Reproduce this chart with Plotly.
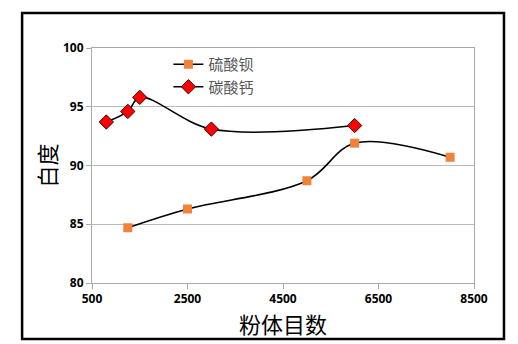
import plotly.graph_objects as go

x_baso4 = [1250, 2500, 5000, 6000, 8000]
y_baso4 = [84.7, 86.3, 88.7, 91.9, 90.7]
x_caco3 = [800, 1250, 1500, 3000, 6000]
y_caco3 = [93.7, 94.6, 95.8, 93.1, 93.4]
name_baso4 = "硫酸钡"
name_caco3 = "碳酸钙"
x_title = "粉体目数"
y_title = "白度"
x_ticks = [500, 2500, 4500, 6500, 8500]
y_ticks = [80, 85, 90, 95, 100]

fig = go.Figure()
fig.add_trace(go.Scatter(
    x=x_baso4, y=y_baso4, name=name_baso4, mode="lines+markers",
    line=dict(color="black", width=1.6, shape="spline", smoothing=1.0),
    marker=dict(symbol="square", size=9, color="#F0823A", line=dict(width=0))))
fig.add_trace(go.Scatter(
    x=x_caco3, y=y_caco3, name=name_caco3, mode="lines+markers",
    line=dict(color="black", width=1.6, shape="spline", smoothing=1.0),
    marker=dict(symbol="diamond", size=11, color="#FF0000", line=dict(width=1, color="#400000"))))

tickfont = dict(family="Open Sans", size=12, color="black", weight="bold")
titlefont = dict(family="Noto Sans CJK SC", size=22, color="black")
fig.update_layout(
    width=518, height=344,
    margin=dict(l=92, r=44, t=48, b=61),
    paper_bgcolor="white", plot_bgcolor="white",
    showlegend=True,
    legend=dict(x=0.2, y=1.0, xanchor="left", yanchor="top",
                bgcolor="rgba(0,0,0,0)",
                font=dict(family="Noto Sans CJK SC", size=15, color="#555555"),
                traceorder="normal"),
    xaxis=dict(range=[500, 8500], tickvals=x_ticks, ticks="outside", ticklen=5,
               tickcolor="#aaaaaa", showline=True, linecolor="#aaaaaa", linewidth=1,
               mirror=True, showgrid=False, zeroline=False, tickfont=tickfont),
    yaxis=dict(range=[80, 100], tickvals=y_ticks, ticks="outside", ticklen=5,
               tickcolor="#aaaaaa", showline=True, linecolor="#aaaaaa", linewidth=1,
               mirror=True, showgrid=True, gridcolor="#bbbbbb", gridwidth=1,
               zeroline=False, tickfont=tickfont),
    annotations=[
        dict(text=x_title, xref="paper", yref="paper", x=0.5, y=-0.17,
             xanchor="center", yanchor="middle", showarrow=False, font=titlefont),
        dict(text=y_title, xref="paper", yref="paper", x=-0.123, y=0.5,
             xanchor="center", yanchor="middle", showarrow=False, textangle=-90, font=titlefont),
    ],
    shapes=[dict(type="rect", xref="paper", yref="paper",
                 x0=-0.183, x1=1.0785, y0=-0.238, y1=1.149,
                 line=dict(color="black", width=2.5), fillcolor="rgba(0,0,0,0)")],
)
fig.write_html("out.html")
